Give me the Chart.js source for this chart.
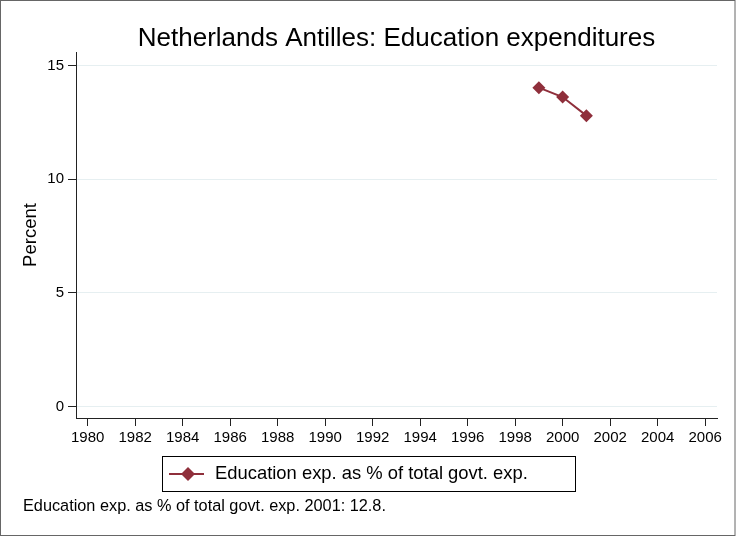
<!DOCTYPE html>
<html>
<head>
<meta charset="utf-8">
<script src="https://cdn.jsdelivr.net/npm/chart.js@4"></script>
<style>
html, body { margin: 0; padding: 0; background: #fff; }
</style>
</head>
<body>
<canvas id="lineChart" width="736" height="536"></canvas>
<script>
// data
var years = [1999, 2000, 2001];
var eduShare = [14.03, 13.62, 12.8];
var xTicks = [1980, 1982, 1984, 1986, 1988, 1990, 1992, 1994, 1996, 1998, 2000, 2002, 2004, 2006];
var yTicks = [0, 5, 10, 15];

var chartTitle = 'Netherlands Antilles: Education expenditures';
var seriesLabel = 'Education exp. as % of total govt. exp.';
var footNote = 'Education exp. as % of total govt. exp. 2001: 12.8.';

var maroon = '#8f2f3b';
var fontName = '"Liberation Sans", Arial, Helvetica, sans-serif';

// title, legend box, footer note and outer frame
var extras = {
    id: 'extras',
    beforeDraw: function(chart) {
        var c = chart.ctx;
        c.save();
        c.fillStyle = '#fff';
        c.fillRect(0, 0, chart.width, chart.height);
        c.strokeStyle = '#666';
        c.lineWidth = 1;
        c.strokeRect(0.5, 0.5, chart.width - 1.5, chart.height - 1);
        c.restore();
    },
    afterDraw: function(chart) {
        var c = chart.ctx;
        var area = chart.chartArea;
        c.save();

        // title
        c.fillStyle = '#000';
        c.font = '26px ' + fontName;
        c.textAlign = 'center';
        c.textBaseline = 'middle';
        c.fillText(chartTitle, (area.left + area.right) / 2, 39);

        // legend
        c.strokeStyle = '#000';
        c.lineWidth = 1;
        c.strokeRect(162.5, 456.5, 413, 35);
        c.strokeStyle = maroon;
        c.lineWidth = 2;
        c.beginPath();
        c.moveTo(169, 474);
        c.lineTo(204, 474);
        c.stroke();
        c.fillStyle = maroon;
        c.beginPath();
        c.moveTo(188, 467);
        c.lineTo(195, 474);
        c.lineTo(188, 481);
        c.lineTo(181, 474);
        c.closePath();
        c.fill();
        c.fillStyle = '#000';
        c.font = '18.4px ' + fontName;
        c.textAlign = 'left';
        c.fillText(seriesLabel, 215, 474);

        // footer
        c.font = '16.3px ' + fontName;
        c.fillText(footNote, 23, 507);
        c.restore();
    }
};

var ctx = document.getElementById('lineChart').getContext('2d');
var lineChart = new Chart(ctx, {
    type: 'line',
    data: {
        datasets: [{
            label: seriesLabel,
            data: years.map(function(y, i) { return {x: y, y: eduShare[i]}; }),
            borderColor: maroon,
            backgroundColor: maroon,
            borderWidth: 2,
            lineTension: 0,
            pointStyle: 'rectRot',
            pointRadius: 6.5,
            pointBorderWidth: 0,
            pointBackgroundColor: maroon
        }]
    },
    options: {
        responsive: false,
        animation: false,
        devicePixelRatio: 1,
        layout: {padding: {left: 0, top: 52, right: 19, bottom: 78}},
        plugins: {
            legend: {display: false},
            title: {display: false},
            tooltip: {enabled: false}
        },
        scales: {
            x: {
                type: 'linear',
                min: 1979.51,
                max: 2006.5,
                afterBuildTicks: function(scale) {
                    scale.ticks = xTicks.map(function(v) { return {value: v}; });
                },
                afterFit: function(scale) { scale.height = 40; },
                grid: {drawOnChartArea: false, drawTicks: true, tickLength: 8, tickColor: '#222'},
                border: {display: true, color: '#222', width: 1},
                ticks: {
                    color: '#000',
                    font: {family: fontName, size: 15},
                    padding: 3,
                    maxRotation: 0,
                    autoSkip: false,
                    callback: function(v) { return String(v); }
                }
            },
            y: {
                min: -0.5,
                max: 15.6,
                afterBuildTicks: function(scale) {
                    scale.ticks = yTicks.map(function(v) { return {value: v}; });
                },
                afterFit: function(scale) { scale.width = 76; },
                grid: {color: '#e6eff1', lineWidth: 1, drawTicks: true, tickLength: 8, tickColor: '#222'},
                border: {display: true, color: '#222', width: 1},
                ticks: {
                    color: '#000',
                    font: {family: fontName, size: 15},
                    padding: 4
                },
                title: {
                    display: true,
                    text: 'Percent',
                    color: '#000',
                    font: {family: fontName, size: 18.5},
                    padding: {top: 20, bottom: 0}
                }
            }
        }
    },
    plugins: [extras]
});
</script>
</body>
</html>
